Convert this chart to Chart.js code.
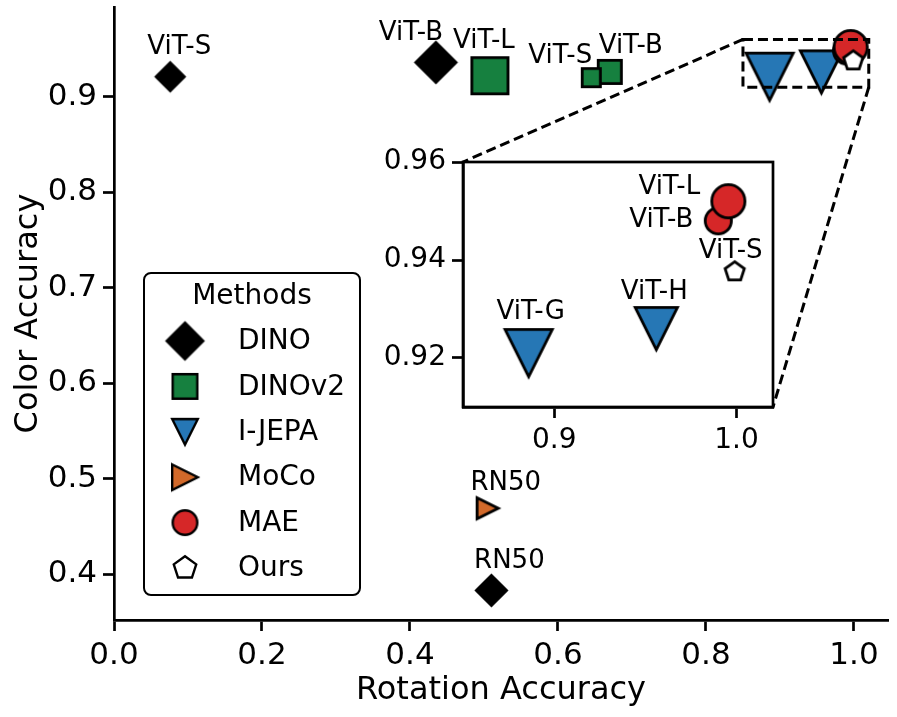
<!DOCTYPE html>
<html>
<head>
<meta charset="utf-8">
<script src="https://cdn.jsdelivr.net/npm/chart.js@4.4.1/dist/chart.umd.min.js"></script>
<style>
  html, body { margin: 0; padding: 0; background: #fff; }
  #wrap { position: relative; width: 897px; height: 717px; }
  #main { position: absolute; left: 0; top: 0; }
  #inset { position: absolute; left: 360px; top: 140px; }
</style>
</head>
<body>
<div id="wrap">
  <canvas id="main" width="897" height="717"></canvas>
  <canvas id="inset" width="430" height="330"></canvas>
</div>
<script>
// Data
const methods = ['DINO', 'DINOv2', 'I-JEPA', 'MoCo', 'MAE', 'Ours'];

const dinoModels = ['ViT-S', 'ViT-B', 'RN50'];
const dinoRot = [0.076, 0.435, 0.510];
const dinoColor = [0.921, 0.936, 0.383];

const dinov2Models = ['ViT-L', 'ViT-B', 'ViT-S'];
const dinov2Rot = [0.508, 0.670, 0.645];
const dinov2Color = [0.922, 0.926, 0.920];

const ijepaModels = ['ViT-G', 'ViT-H'];
const ijepaRot = [0.886, 0.956];
const ijepaColor = [0.921, 0.926];

const mocoModels = ['RN50'];
const mocoRot = [0.505];
const mocoColor = [0.469];

const maeModels = ['ViT-B', 'ViT-L'];
const maeRot = [0.990, 0.9955];
const maeColor = [0.948, 0.952];

const oursModels = ['ViT-S'];
const oursRot = [0.999];
const oursColor = [0.9376];

const xTicks = [0.0, 0.2, 0.4, 0.6, 0.8, 1.0];
const yTicks = [0.4, 0.5, 0.6, 0.7, 0.8, 0.9];
const insetXTicks = [0.9, 1.0];
const insetYTicks = [0.92, 0.94, 0.96];

const mainXRange = [0, 1.046];
const mainYRange = [0.352, 0.994];
const insetXRange = [0.85, 1.02];
const insetYRange = [0.91, 0.96];

// Styles
const FONT = 'DejaVu Sans';
Chart.defaults.font.family = FONT;
Chart.defaults.color = '#000';
const EDGE = 2.8;

const styles = {
  DINO:   { shape: 'D', fill: '#000000', sizes: [31, 43, 33], legend: 39 },
  DINOv2: { shape: 's', fill: '#16803f', sizes: [39, 26, 21], legend: 27 },
  'I-JEPA': { shape: 'v', fill: '#2677b5', sizes: [50, 45], legend: 28 },
  MoCo:   { shape: '>', fill: '#d2692a', sizes: [24], legend: 28 },
  MAE:    { shape: 'o', fill: '#d62728', sizes: [29, 36], legend: 27 },
  Ours:   { shape: 'p', fill: '#ffffff', sizes: [23], legend: 26 }
};

// label offsets (px) from each point to the centre of its text
const mainLabelOffsets = {
  DINO: [[9, -32], [-25, -32], [18, -32]],
  DINOv2: [[-6, -37], [21, -28], [-31, -24]],
  MoCo: [[18, -28]]
};
const insetLabelOffsets = {
  'I-JEPA': [[2, -44], [-2, -39]],
  MAE: [[-57, -3], [-59, -17]],
  Ours: [[-4, -23]]
};

const marker = function (shape, size, fill, edge, lw) {
  const pad = 7;
  const dim = Math.ceil(size + pad * 2);
  const c = document.createElement('canvas');
  c.width = dim; c.height = dim;
  const g = c.getContext('2d');
  const h = size / 2 - lw / 2;
  g.translate(dim / 2, dim / 2);
  g.beginPath();
  if (shape === 'o') {
    g.arc(0, 0, h, 0, Math.PI * 2);
  } else {
    let pts;
    if (shape === 'D') pts = [[0, -h], [h, 0], [0, h], [-h, 0]];
    else if (shape === 's') pts = [[-h, -h], [h, -h], [h, h], [-h, h]];
    else if (shape === 'v') pts = [[-h, -h], [h, -h], [0, h]];
    else if (shape === '>') pts = [[-h, -h], [h, 0], [-h, h]];
    else pts = [0, 1, 2, 3, 4].map(k => {
      const a = -Math.PI / 2 + k * 2 * Math.PI / 5;
      return [h * Math.cos(a), h * Math.sin(a)];
    });
    pts.forEach((p, i) => i ? g.lineTo(p[0], p[1]) : g.moveTo(p[0], p[1]));
    g.closePath();
  }
  g.fillStyle = fill;
  g.fill();
  g.lineWidth = lw;
  g.lineJoin = 'miter';
  g.strokeStyle = edge;
  g.stroke();
  return c;
};

const makeSet = function (method, models, xs, ys, offsets) {
  const st = styles[method];
  return {
    label: method,
    data: xs.map((x, i) => ({ x: x, y: ys[i] })),
    pointStyle: st.sizes.map(s => marker(st.shape, s, st.fill, '#000', EDGE)),
    pointRadius: st.sizes.map(s => s / 2),
    order: 5 - methods.indexOf(method),
    clip: false,
    names: offsets ? models : null,
    nameOffsets: offsets || null
  };
};

const labelPlugin = {
  id: 'pointNames',
  afterDatasetsDraw(chart) {
    const ctx = chart.ctx;
    const size = 26;
    ctx.save();
    ctx.font = size + 'px "' + FONT + '"';
    ctx.fillStyle = '#000';
    ctx.textAlign = 'center';
    ctx.textBaseline = 'alphabetic';
    chart.data.datasets.forEach((ds, di) => {
      if (!ds.names) return;
      const meta = chart.getDatasetMeta(di);
      ds.names.forEach((name, i) => {
        const pt = meta.data[i];
        const off = ds.nameOffsets[i];
        ctx.fillText(name, pt.x + off[0], pt.y + off[1] + 0.365 * size);
      });
    });
    ctx.restore();
  }
};

const axisCommon = function (ticksArr, digits, fixedSize, isX, fontSize) {
  return {
    type: 'linear',
    afterFit: s => {
      if (isX) s.height = fixedSize; else s.width = fixedSize;
      // the plot box is fixed, no extra room for edge labels
      s.paddingLeft = 0; s.paddingRight = 0; s.paddingTop = 0; s.paddingBottom = 0;
    },
    afterBuildTicks: s => { s.ticks = ticksArr.map(v => ({ value: v })); },
    ticks: {
      callback: v => Number(v).toFixed(digits),
      font: { size: fontSize },
      color: '#000',
      padding: 6,
      maxRotation: 0,
      autoSkip: false
    },
    grid: {
      display: true,
      drawOnChartArea: false,
      drawTicks: true,
      tickLength: 11,
      tickWidth: 2.7,
      tickColor: '#000'
    },
    border: { display: true, color: '#000', width: 2.7 }
  };
};

// Inset
const insetCanvas = document.getElementById('inset');
const insetFrame = {
  id: 'insetFrame',
  beforeDraw(chart) {
    const a = chart.chartArea, ctx = chart.ctx;
    ctx.save();
    ctx.fillStyle = '#fff';
    ctx.fillRect(a.left, a.top, a.right - a.left, a.bottom - a.top);
    ctx.restore();
  },
  afterDraw(chart) {
    const a = chart.chartArea, ctx = chart.ctx;
    ctx.save();
    ctx.lineWidth = 2.7;
    ctx.strokeStyle = '#000';
    ctx.strokeRect(a.left, a.top, a.right - a.left, a.bottom - a.top);
    ctx.restore();
  }
};

const insetX = axisCommon(insetXTicks, 1, 63, true, 28);
insetX.min = insetXRange[0]; insetX.max = insetXRange[1];
const insetY = axisCommon(insetYTicks, 2, 103, false, 28);
insetY.min = insetYRange[0]; insetY.max = insetYRange[1];

const insetChart = new Chart(insetCanvas, {
  type: 'scatter',
  data: {
    datasets: [
      makeSet('I-JEPA', ijepaModels, ijepaRot, ijepaColor, insetLabelOffsets['I-JEPA']),
      makeSet('MAE', maeModels, maeRot, maeColor, insetLabelOffsets.MAE),
      makeSet('Ours', oursModels, oursRot, oursColor, insetLabelOffsets.Ours)
    ]
  },
  options: {
    responsive: false,
    animation: false,
    layout: { autoPadding: false, padding: { left: 0, right: 17, top: 22, bottom: 0 } },
    plugins: { legend: { display: false }, tooltip: { enabled: false } },
    scales: { x: insetX, y: insetY }
  },
  plugins: [insetFrame, labelPlugin]
});

// Main chart
const zoomBox = {
  id: 'zoomBox',
  afterDatasetsDraw(chart) {
    const { ctx, scales: { x, y } } = chart;
    const x0 = x.getPixelForValue(insetXRange[0]), x1 = x.getPixelForValue(insetXRange[1]);
    const y0 = y.getPixelForValue(insetYRange[1]), y1 = y.getPixelForValue(insetYRange[0]);
    const a = insetChart.chartArea;
    const ox = insetCanvas.offsetLeft, oy = insetCanvas.offsetTop;
    ctx.save();
    ctx.setLineDash([10, 5]);
    ctx.lineWidth = 3;
    ctx.strokeStyle = '#000';
    ctx.strokeRect(x0, y0, x1 - x0, y1 - y0);
    ctx.beginPath();
    ctx.moveTo(x0, y0); ctx.lineTo(ox + a.left, oy + a.top);
    ctx.moveTo(x1, y1); ctx.lineTo(ox + a.right, oy + a.bottom);
    ctx.stroke();
    ctx.restore();
  }
};

const legendBox = {
  id: 'legendBox',
  afterDraw(chart) {
    const ctx = chart.ctx;
    const left = 144, top = 273, w = 216, h = 322, r = 7;
    ctx.save();
    ctx.beginPath();
    ctx.roundRect(left, top, w, h, r);
    ctx.fillStyle = '#fff';
    ctx.fill();
    ctx.lineWidth = 2;
    ctx.strokeStyle = '#000';
    ctx.stroke();
    ctx.fillStyle = '#000';
    ctx.font = '28px "' + FONT + '"';
    ctx.textAlign = 'center';
    ctx.textBaseline = 'middle';
    ctx.fillText('Methods', 252, 297);
    ctx.textAlign = 'left';
    methods.forEach((m, i) => {
      const st = styles[m];
      const yy = 341 + i * 45.4;
      const img = marker(st.shape, st.legend, st.fill, '#000', EDGE * 0.85);
      ctx.drawImage(img, 185 - img.width / 2, yy - img.height / 2);
      ctx.fillText(m, 238, yy + 1);
    });
    ctx.restore();
  }
};

const mainX = axisCommon(xTicks, 1, 97, true, 31);
mainX.min = mainXRange[0]; mainX.max = mainXRange[1];
mainX.title = { display: true, text: 'Rotation Accuracy', font: { size: 32 }, color: '#000', padding: { top: 0, bottom: 7 } };
const mainY = axisCommon(yTicks, 1, 114, false, 31);
mainY.min = mainYRange[0]; mainY.max = mainYRange[1];
mainY.title = { display: true, text: 'Color Accuracy', font: { size: 32 }, color: '#000', padding: { top: 9, bottom: 0 } };

const mainChart = new Chart(document.getElementById('main'), {
  type: 'scatter',
  data: {
    datasets: [
      makeSet('DINO', dinoModels, dinoRot, dinoColor, mainLabelOffsets.DINO),
      makeSet('DINOv2', dinov2Models, dinov2Rot, dinov2Color, mainLabelOffsets.DINOv2),
      makeSet('I-JEPA', ijepaModels, ijepaRot, ijepaColor, null),
      makeSet('MoCo', mocoModels, mocoRot, mocoColor, mainLabelOffsets.MoCo),
      makeSet('MAE', maeModels, maeRot, maeColor, null),
      makeSet('Ours', oursModels, oursRot, oursColor, null)
    ]
  },
  options: {
    responsive: false,
    animation: false,
    layout: { autoPadding: false, padding: { left: 0, right: 9, top: 7, bottom: 0 } },
    plugins: { legend: { display: false }, tooltip: { enabled: false } },
    scales: { x: mainX, y: mainY }
  },
  plugins: [labelPlugin, zoomBox, legendBox]
});
</script>
</body>
</html>
